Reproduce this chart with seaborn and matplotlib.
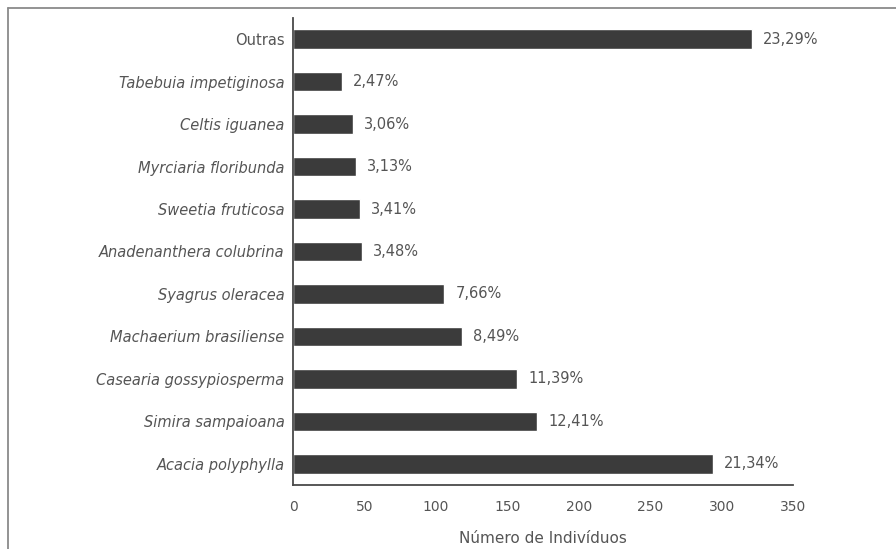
import matplotlib
matplotlib.use("Agg")
import matplotlib.pyplot as plt
import seaborn as sns
import pandas as pd
from matplotlib.lines import Line2D
from matplotlib.ticker import FixedLocator

species = ["Outras", "Tabebuia impetiginosa", "Celtis iguanea", "Myrciaria floribunda",
           "Sweetia fruticosa", "Anadenanthera colubrina", "Syagrus oleracea",
           "Machaerium brasiliense", "Casearia gossypiosperma", "Simira sampaioana",
           "Acacia polyphylla"]
individuos = [321, 34, 42, 44, 47, 48, 106, 118, 157, 171, 294]
percent_labels = ["23,29%", "2,47%", "3,06%", "3,13%", "3,41%", "3,48%", "7,66%",
                  "8,49%", "11,39%", "12,41%", "21,34%"]
x_ticks = [0, 50, 100, 150, 200, 250, 300, 350]

df = pd.DataFrame({"especie": species, "n": individuos})

sns.set_style("white")
plt.rcParams["font.family"] = ["DejaVu Sans"]

fig = plt.figure(figsize=(8.96, 5.49), dpi=100)
ax = fig.add_axes([293/896, 1-485/549, (793-293)/896, (485-18)/549])

sns.barplot(data=df, x="n", y="especie", orient="h", color="#3b3b3b",
            saturation=1, width=0.46, ax=ax, order=species)

text_color = "#555555"
axis_color = "#4a4a4a"
ax.set_xlim(0, 350)
ax.set_ylim(len(species) - 0.5, -0.5)
ax.set_xticks(x_ticks)
ax.set_xticklabels([str(t) for t in x_ticks], color=text_color, fontsize=10)
ax.tick_params(axis="x", direction="out", length=3, width=1, color=axis_color, pad=8)
ax.tick_params(axis="y", which="major", length=0, pad=6)
ax.yaxis.set_minor_locator(FixedLocator([i - 0.5 for i in range(len(species) + 1)]))
ax.tick_params(axis="y", which="minor", direction="out", length=3, width=1, color=axis_color)
for lab in ax.get_yticklabels():
    lab.set_color(text_color)
    lab.set_fontsize(10.5)
    if lab.get_text() != "Outras":
        lab.set_fontstyle("italic")

ax.set_ylabel("")
ax.set_xlabel("Número de Indivíduos", color=text_color, fontsize=11, labelpad=12)

for s in ["top", "right"]:
    ax.spines[s].set_visible(False)
for s in ["left", "bottom"]:
    ax.spines[s].set_color(axis_color)
    ax.spines[s].set_linewidth(1.3)

for i, (v, lab) in enumerate(zip(individuos, percent_labels)):
    ax.annotate(lab, xy=(v, i), xytext=(8, 0), textcoords="offset points",
                va="center", ha="left", color=text_color, fontsize=10.5)

# outer frame (top and left edges)
fig.add_artist(Line2D([8/896, 1], [1-8/549, 1-8/549], transform=fig.transFigure,
                      color="#8a8a8a", linewidth=1.3))
fig.add_artist(Line2D([8/896, 8/896], [0, 1-8/549], transform=fig.transFigure,
                      color="#8a8a8a", linewidth=1.3))

fig.savefig("out.png", dpi=100)
